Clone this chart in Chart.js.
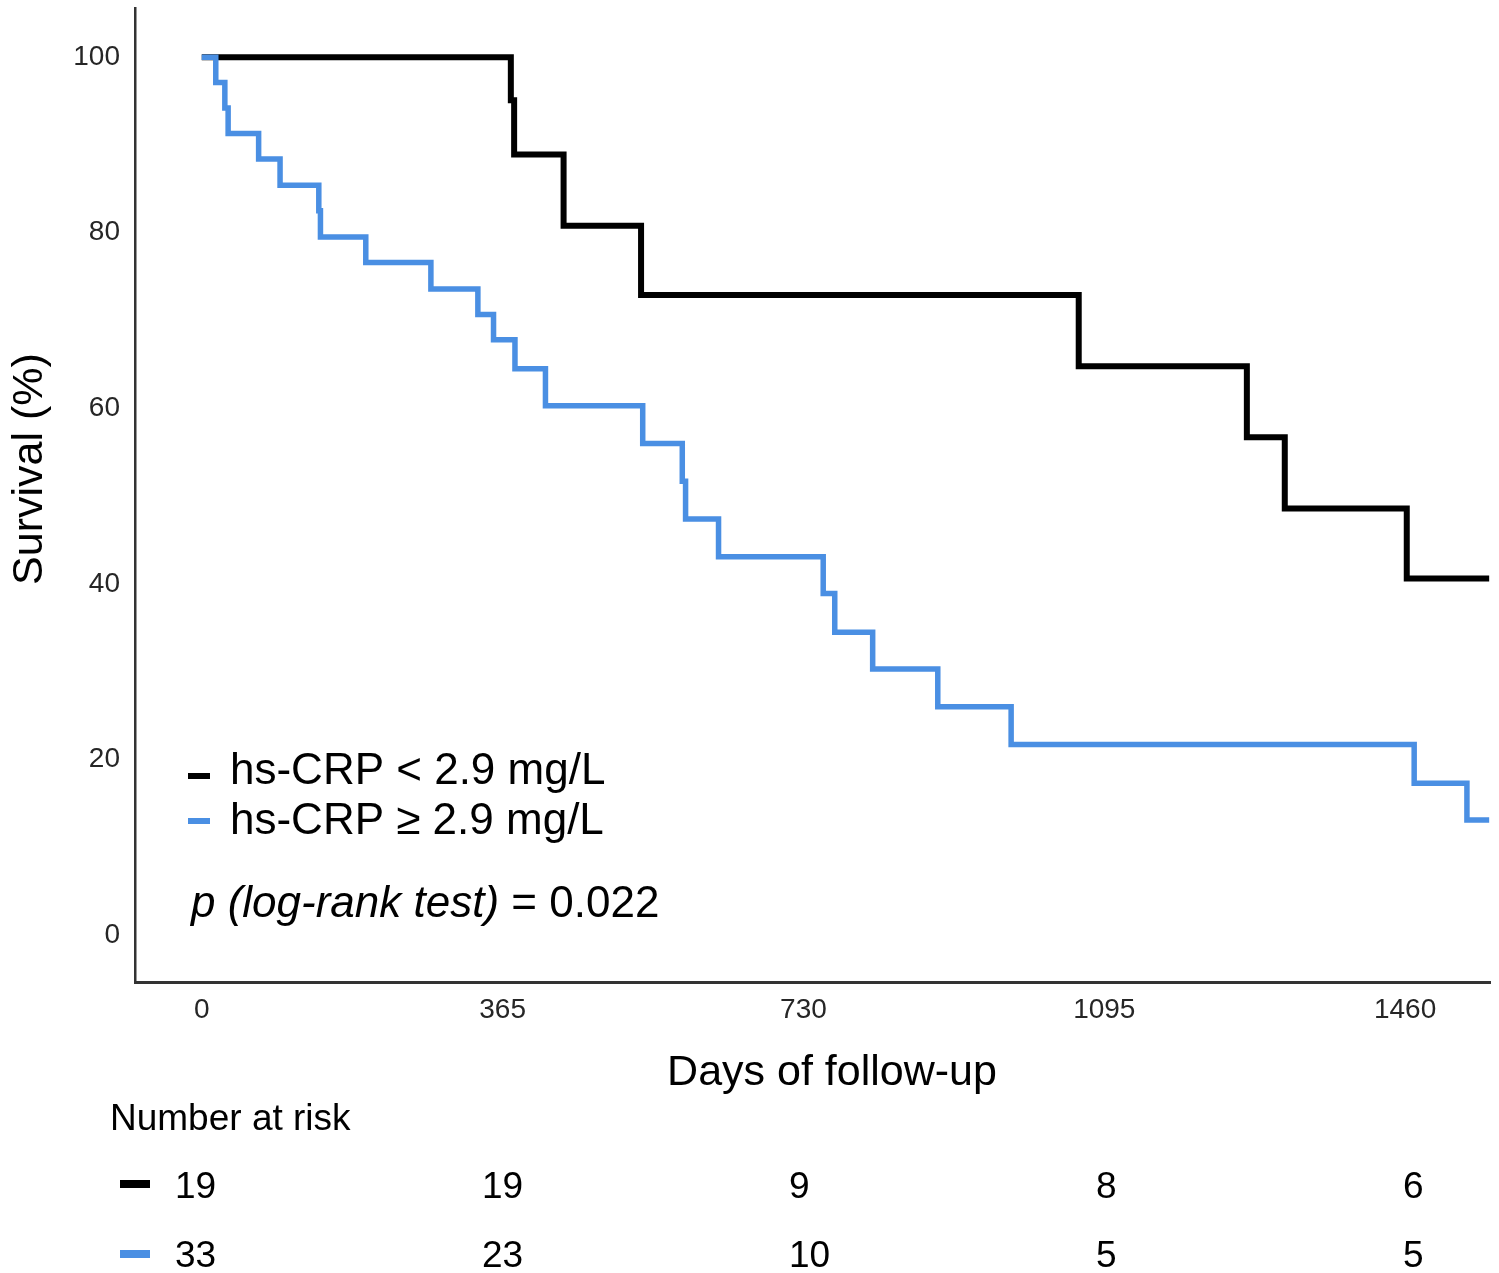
<!DOCTYPE html>
<html>
<head>
<meta charset="utf-8">
<script src="https://cdn.jsdelivr.net/npm/chart.js@4.4.1/dist/chart.umd.min.js"></script>
<style>
  html, body { margin: 0; padding: 0; background: #fff; }
</style>
</head>
<body>
<canvas id="kmChart" width="1499" height="1273"></canvas>
<script>
// tick labels
var xTicks = [0, 365, 730, 1095, 1460];
var yTicks = [0, 20, 40, 60, 80, 100];

// hs-CRP < 2.9 mg/L (black)
var lowDays = [0, 375, 379, 439, 533, 1064, 1268, 1314, 1462, 1562];
var lowSurv = [100, 95.1, 88.9, 80.8, 72.9, 64.8, 56.7, 48.6, 40.6, 40.6];

// hs-CRP >= 2.9 mg/L (blue)
var highDays = [0, 17, 28, 32, 69, 95, 142, 144, 199, 278, 335, 354, 380, 417, 535, 583, 587, 627, 754, 768, 814, 893, 982, 1471, 1535, 1562];
var highSurv = [100, 97.1, 94.2, 91.3, 88.4, 85.4, 82.5, 79.5, 76.6, 73.6, 70.7, 67.8, 64.5, 60.3, 56.0, 51.7, 47.4, 43.1, 38.9, 34.5, 30.3, 26.0, 21.7, 17.3, 13.1, 13.1];

var seriesNames = ['hs-CRP < 2.9 mg/L', 'hs-CRP \u2265 2.9 mg/L'];
var riskLow = [19, 19, 9, 8, 6];
var riskHigh = [33, 23, 10, 5, 5];

var BLACK = '#000000';
var BLUE = '#4a8fe3';
var FONT = '"Liberation Sans", Arial, Helvetica, sans-serif';

function toPoints(xs, ys) {
    return xs.map(function (x, i) { return { x: x, y: ys[i] }; });
}

// titles, legend, p-value and risk table
var kmText = {
    id: 'kmText',
    afterDraw: function (chart) {
        var ctx = chart.ctx;
        ctx.save();
        ctx.fillStyle = '#000';
        ctx.textBaseline = 'alphabetic';

        ctx.font = '43px ' + FONT;
        ctx.textAlign = 'center';
        ctx.fillText('Days of follow-up', 832, 1085);

        ctx.save();
        ctx.translate(42, 469);
        ctx.rotate(-Math.PI / 2);
        ctx.fillText('Survival (%)', 0, 0);
        ctx.restore();

        // legend
        ctx.font = '44px ' + FONT;
        ctx.textAlign = 'left';
        ctx.fillStyle = BLACK;
        ctx.fillRect(188, 773, 22, 6);
        ctx.fillStyle = BLUE;
        ctx.fillRect(188, 818, 22, 6);
        ctx.fillStyle = '#000';
        ctx.fillText(seriesNames[0], 230, 784);
        ctx.fillText(seriesNames[1], 230, 834);

        // p value
        ctx.font = 'italic 44px ' + FONT;
        var pLabel = 'p (log-rank test)';
        ctx.fillText(pLabel, 191, 917);
        var w = ctx.measureText(pLabel).width;
        ctx.font = '44px ' + FONT;
        ctx.fillText(' = 0.022', 191 + w, 917);

        // number at risk
        ctx.font = '37px ' + FONT;
        ctx.fillText('Number at risk', 110, 1130);
        ctx.fillStyle = BLACK;
        ctx.fillRect(120, 1180, 30, 8);
        ctx.fillStyle = BLUE;
        ctx.fillRect(120, 1250, 30, 8);
        ctx.fillStyle = '#000';
        for (var i = 0; i < riskLow.length; i++) {
            var colX = 175 + i * 307;
            ctx.fillText(String(riskLow[i]), colX, 1198);
            ctx.fillText(String(riskHigh[i]), colX, 1267);
        }
        ctx.restore();
    }
};

var ctxKM = document.getElementById('kmChart').getContext('2d');
var kmChart = new Chart(ctxKM, {
    type: 'line',
    data: {
        datasets: [
            {
                label: seriesNames[0],
                data: toPoints(lowDays, lowSurv),
                borderColor: BLACK,
                borderWidth: 6,
                stepped: 'before',
                pointRadius: 0,
                fill: false,
                order: 2
            },
            {
                label: seriesNames[1],
                data: toPoints(highDays, highSurv),
                borderColor: BLUE,
                borderWidth: 5.5,
                stepped: 'before',
                pointRadius: 0,
                fill: false,
                order: 1
            }
        ]
    },
    options: {
        responsive: false,
        animation: false,
        layout: { padding: { top: 8, right: 9, left: 0, bottom: 0 } },
        plugins: {
            legend: { display: false },
            tooltip: { enabled: false }
        },
        scales: {
            x: {
                type: 'linear',
                min: -81,
                max: 1563,
                afterBuildTicks: function (s) { s.ticks = xTicks.map(function (v) { return { value: v }; }); },
                afterFit: function (s) {
                    s.height = 291;
                    s.paddingLeft = 0;
                    s.paddingRight = 0;
                },
                grid: { display: false, drawTicks: false },
                border: { display: true, color: '#333', width: 3 },
                ticks: {
                    padding: 11,
                    color: '#262626',
                    font: { family: FONT, size: 28 },
                    maxRotation: 0,
                    autoSkip: false,
                    callback: function (v) { return String(v); }
                }
            },
            y: {
                min: -5.35,
                max: 105.6,
                afterBuildTicks: function (s) { s.ticks = yTicks.map(function (v) { return { value: v }; }); },
                afterFit: function (s) {
                    s.width = 135;
                    s.paddingTop = 0;
                    s.paddingBottom = 0;
                },
                grid: { display: false, drawTicks: false },
                border: { display: true, color: '#333', width: 2.5 },
                ticks: {
                    padding: 15,
                    color: '#262626',
                    font: { family: FONT, size: 28 },
                    callback: function (v) { return String(v); }
                }
            }
        }
    },
    plugins: [kmText]
});
</script>
</body>
</html>
